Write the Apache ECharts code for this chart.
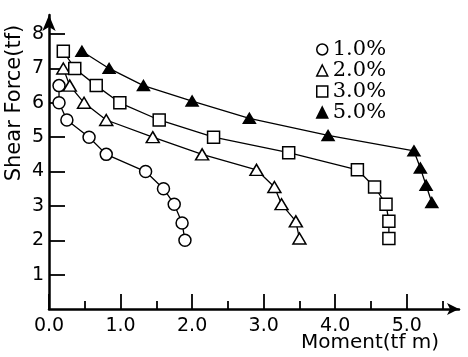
<!DOCTYPE html>
<html>
<head>
<meta charset="utf-8">
<script src="https://cdn.jsdelivr.net/npm/echarts@6/dist/echarts.min.js"></script>
<style>
  html, body { margin: 0; padding: 0; background: #fff; }
  #chart { width: 468px; height: 357px; }
</style>
</head>
<body>
<div id="chart"></div>
<script>
// moment (tf m), shear force (tf) pairs
const drift10 = [[0.14, 6.5], [0.14, 6.0], [0.25, 5.5], [0.56, 5.0], [0.8, 4.5], [1.35, 4.0], [1.6, 3.5], [1.75, 3.05], [1.86, 2.5], [1.9, 2.0]];
const drift20 = [[0.2, 7.0], [0.29, 6.5], [0.49, 6.0], [0.8, 5.5], [1.45, 5.0], [2.14, 4.5], [2.9, 4.05], [3.15, 3.55], [3.25, 3.05], [3.45, 2.55], [3.5, 2.05]];
const drift30 = [[0.2, 7.5], [0.36, 7.0], [0.66, 6.5], [0.99, 6.0], [1.54, 5.5], [2.3, 5.0], [3.35, 4.55], [4.31, 4.05], [4.55, 3.55], [4.71, 3.05], [4.75, 2.55], [4.75, 2.05]];
const drift50 = [[0.46, 7.5], [0.84, 7.0], [1.32, 6.5], [2.0, 6.05], [2.8, 5.55], [3.9, 5.05], [5.1, 4.6], [5.19, 4.1], [5.27, 3.6], [5.35, 3.1]];

const seriesNames = ['1.0%', '2.0%', '3.0%', '5.0%'];
const xMajorTicks = [0, 1, 2, 3, 4, 5];
const xMinorTicks = [0.5, 1.5, 2.5, 3.5, 4.5, 5.5];
const yTicks = [1, 2, 3, 4, 5, 6, 7, 8];

const chart = echarts.init(document.getElementById('chart'));

// one entry per curve: symbol, size, fill
const looks = [
  { data: drift10, symbol: 'circle', size: 12, fill: '#fff' },
  { data: drift20, symbol: 'triangle', size: [13, 11], fill: '#fff' },
  { data: drift30, symbol: 'rect', size: 12, fill: '#fff' },
  { data: drift50, symbol: 'triangle', size: [12, 10], fill: '#000' }
];

const series = looks.map((l, i) => ({
  name: seriesNames[i],
  type: 'line',
  xAxisIndex: 0,
  data: l.data,
  symbol: l.symbol,
  symbolSize: l.size,
  showAllSymbol: true,
  lineStyle: { color: '#000', width: 1.3 },
  itemStyle: { color: l.fill, borderColor: '#000', borderWidth: 1.5 },
  emphasis: { disabled: true },
  z: 3
}));

const axisFont = 'DejaVu Sans';

chart.setOption({
  backgroundColor: '#fff',
  animation: false,
  grid: { left: 49, right: 9, top: 15, bottom: 48 },
  legend: {
    orient: 'vertical',
    left: 311,
    top: 34,
    itemGap: 0,
    itemWidth: 11,
    itemHeight: 11,
    selectedMode: false,
    textStyle: { fontFamily: 'DejaVu Serif', fontSize: 21, lineHeight: 20, color: '#000' },
    data: seriesNames.map((n, i) => ({
      name: n,
      icon: looks[i].symbol,
      itemStyle: { color: looks[i].fill, borderColor: '#000', borderWidth: 1.5 }
    }))
  },
  xAxis: [
    {
      type: 'value',
      min: 0,
      max: 5.73,
      axisLine: { show: true, lineStyle: { color: '#000', width: 2.5 }, symbol: ['none', 'arrow'], symbolSize: [9, 12] },
      axisTick: { show: true, inside: true, length: 15, customValues: xMajorTicks, lineStyle: { color: '#000', width: 1.8 } },
      axisLabel: {
        customValues: xMajorTicks,
        formatter: v => v.toFixed(1),
        fontFamily: axisFont, fontSize: 19, color: '#000', margin: 8
      },
      splitLine: { show: false }
    },
    {
      type: 'value',
      position: 'bottom',
      min: 0,
      max: 5.73,
      axisLine: { show: false },
      axisTick: { show: true, inside: true, length: 8, customValues: xMinorTicks, lineStyle: { color: '#000', width: 1.8 } },
      axisLabel: { show: false },
      splitLine: { show: false }
    }
  ],
  yAxis: {
    type: 'value',
    min: 0,
    max: 8.555,
    axisLine: { show: true, lineStyle: { color: '#000', width: 2.5 }, symbol: ['none', 'arrow'], symbolSize: [10, 16] },
    axisTick: { show: true, inside: true, length: 16, customValues: yTicks, lineStyle: { color: '#000', width: 1.8 } },
    axisLabel: { customValues: yTicks, fontFamily: axisFont, fontSize: 19, color: '#000', margin: 5 },
    splitLine: { show: false }
  },
  graphic: [
    {
      type: 'text',
      x: 370, y: 343,
      style: { text: 'Moment(tf m)', font: '20px "DejaVu Sans"', fill: '#000', textAlign: 'center', textVerticalAlign: 'middle' }
    },
    {
      type: 'text',
      x: 15, y: 103,
      rotation: Math.PI / 2,
      style: { text: 'Shear Force(tf)', font: '21px "DejaVu Sans"', fill: '#000', textAlign: 'center', textVerticalAlign: 'middle' }
    }
  ],
  series: series
});
</script>
</body>
</html>
